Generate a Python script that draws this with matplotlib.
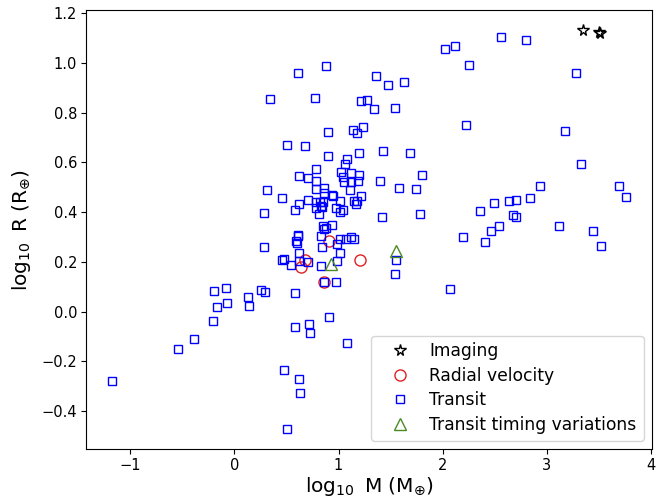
import matplotlib
matplotlib.use("Agg")
import matplotlib.pyplot as plt

# Imaging
img_x = [3.343, 3.500, 3.505]
img_y = [1.132, 1.124, 1.118]

# Radial velocity
rv_x = [0.904, 0.674, 0.636, 1.205, 0.860]
rv_y = [0.282, 0.207, 0.181, 0.208, 0.120]

# Transit timing variations
ttv_x = [0.930, 1.553]
ttv_y = [0.192, 0.243]

# Transit
tr_x = [2.560, 2.800, 2.026, 2.122, 2.256, 3.276, 0.882, 0.614, 1.361, 1.477,
        1.630, 0.345, 0.777, 1.218, 1.275, 1.342, 1.544, 0.901, 1.141, 1.179,
        1.237, 2.227, 3.170, 1.690, 3.330, 1.805, 1.580, 1.748, 1.783, 3.694,
        3.762, 2.930, 2.840, 2.704, 2.640, 2.493, 2.358, 2.672, 2.707, 2.544,
        2.464, 2.199, 2.404, 3.113, 3.439, 3.516, 2.068, 1.419, 1.553, 1.540,
        0.681, 0.502, 0.898, 1.192, 1.422, 1.083, 1.058, 0.780, 1.026, 1.115,
        1.192, 0.617, 0.706, 1.042, 0.780, 1.048, 1.186, 1.115, 1.400, 0.780,
        0.860, 1.106, 0.863, 0.940, 0.946, 1.215, 0.709, 0.786, 0.850, 1.010,
        1.153, 1.179, 1.163, 0.617, 0.783, 0.837, 0.978, 1.045, 1.013, 0.578,
        0.812, 0.850, 0.863, 0.942, 0.614, 0.607, 0.588, 0.597, 0.831, 1.016,
        1.074, 1.119, 1.153, 0.840, 0.985, 1.016, 0.623, 0.623, 0.831, 0.981,
        0.860, 0.978, 0.582, 0.316, 0.457, 0.281, 0.281, 0.457, 0.476, 0.547,
        0.703, -0.198, -0.077, 0.128, 0.259, 0.291, -0.166, -0.074, 0.137, -0.208,
        -0.390, -0.540, 0.908, 0.578, 0.716, 0.722, 1.077, -1.176, 0.476, 0.617,
        0.633, 0.502, 0.825, 0.834, 0.875]
tr_y = [1.104, 1.093, 1.054, 1.067, 0.993, 0.958, 0.989, 0.957, 0.948, 0.911,
        0.923, 0.855, 0.859, 0.847, 0.851, 0.815, 0.819, 0.722, 0.730, 0.718,
        0.742, 0.750, 0.727, 0.636, 0.593, 0.547, 0.495, 0.493, 0.391, 0.503,
        0.462, 0.505, 0.457, 0.449, 0.446, 0.437, 0.406, 0.388, 0.382, 0.344,
        0.323, 0.301, 0.281, 0.343, 0.323, 0.265, 0.091, 0.382, 0.206, 0.152,
        0.665, 0.669, 0.625, 0.637, 0.646, 0.612, 0.593, 0.571, 0.560, 0.555,
        0.550, 0.546, 0.538, 0.542, 0.524, 0.521, 0.523, 0.521, 0.524, 0.493,
        0.495, 0.487, 0.477, 0.469, 0.464, 0.464, 0.448, 0.440, 0.440, 0.444,
        0.445, 0.446, 0.433, 0.431, 0.417, 0.421, 0.417, 0.408, 0.400, 0.407,
        0.394, 0.342, 0.333, 0.347, 0.308, 0.302, 0.282, 0.277, 0.302, 0.293,
        0.290, 0.300, 0.293, 0.259, 0.270, 0.235, 0.235, 0.202, 0.185, 0.202,
        0.120, 0.120, 0.074, 0.487, 0.458, 0.398, 0.258, 0.208, 0.212, 0.188,
        0.199, 0.083, 0.096, 0.058, 0.088, 0.079, 0.019, 0.036, 0.023, -0.036,
        -0.112, -0.150, -0.021, -0.063, -0.051, -0.086, -0.125, -0.278, -0.235, -0.270,
        -0.328, -0.473, 0.442, 0.426, 0.336]

fig = plt.figure(figsize=(6.62, 4.98), dpi=100)
ax = fig.add_axes([0.130, 0.098, 0.855, 0.882])

ax.plot(img_x, img_y, linestyle='none', marker='*', markersize=8.5,
        mfc='none', mec='black', mew=1.0, label='Imaging')
ax.plot(rv_x, rv_y, linestyle='none', marker='o', markersize=8,
        mfc='none', mec='#e02020', mew=1.0, label='Radial velocity')
ax.plot(tr_x, tr_y, linestyle='none', marker='s', markersize=5.5,
        mfc='none', mec='blue', mew=1.0, label='Transit')
ax.plot(ttv_x, ttv_y, linestyle='none', marker='^', markersize=8.5,
        mfc='none', mec='#4b8b25', mew=1.0, label='Transit timing variations')

ax.set_xticks([-1, 0, 1, 2, 3, 4])
ax.set_yticks([-0.4, -0.2, 0.0, 0.2, 0.4, 0.6, 0.8, 1.0, 1.2])
ax.tick_params(labelsize=10.5, pad=3)
ax.set_xlabel(r'$\log_{10}$ M (M$_{\oplus}$)', fontsize=14.5, labelpad=1)
ax.set_ylabel(r'$\log_{10}$ R (R$_{\oplus}$)', fontsize=14.5, labelpad=6)
ax.legend(loc='lower right', fontsize=12.3, labelspacing=0.38,
          handlelength=2.5, handletextpad=0.5)

fig.savefig('out.png', dpi=100)
